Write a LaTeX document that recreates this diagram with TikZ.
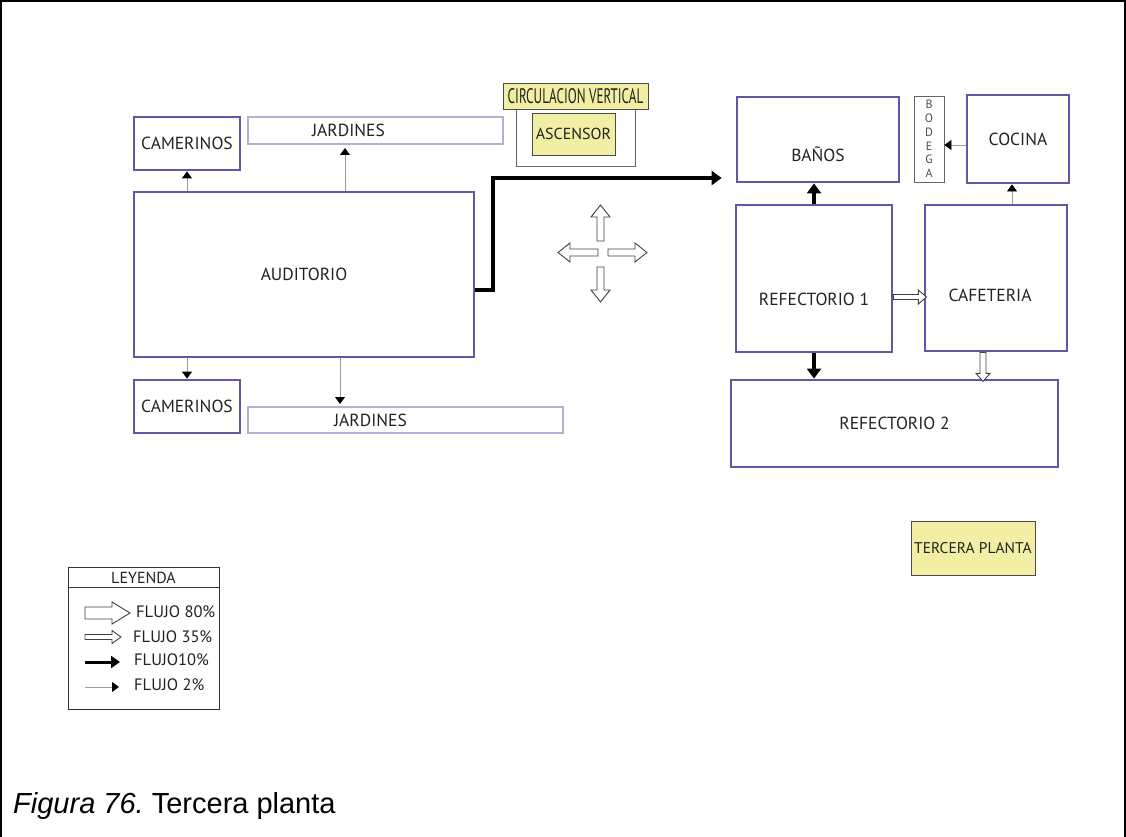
\documentclass[tikz,border=0pt]{standalone}
\usepackage{fontspec}
\usepackage{graphicx}
\setmainfont{PT Sans}
\newfontfamily\capfont{Liberation Sans}
\usetikzlibrary{arrows.meta,calc}
\frenchspacing
\definecolor{pur}{HTML}{6654A8}
\definecolor{lpur}{HTML}{B5AEDB}
\definecolor{yel}{HTML}{F2EFA4}
\definecolor{gr}{HTML}{9A9A9A}
\definecolor{txt}{HTML}{222222}
\newcommand\harrow[6]{\begin{scope}[shift={#1},rotate=#2]
  \draw[hollow] (0,-#4) -- ({#3-#6},-#4) -- ({#3-#6},-#5) -- (#3,0) -- ({#3-#6},#5) -- ({#3-#6},#4) -- (0,#4) -- cycle;
\end{scope}}
\tikzset{
  lab/.style={font=\fontsize{17.5}{19}\selectfont, text=txt},
  room/.style={draw=pur, line width=2.8pt, inner sep=0pt, lab},
  garden/.style={draw=lpur, line width=2pt, inner sep=0pt},
  ybox/.style={draw=black!70, fill=yel, line width=0.8pt, inner sep=0pt, text=txt},
  plainbox/.style={draw=black!60, line width=0.8pt, inner sep=0pt},
  thinflow/.style={draw=gr, line width=0.8pt, -{Triangle[length=7pt,width=10pt,color=black]}},
  thickflow/.style={draw=black, line width=3.4pt, -{Triangle[length=10pt,width=14pt]}},
  hollow/.style={draw=black!75, line width=0.9pt, fill=white},
  legtext/.style={anchor=west, font=\fontsize{16.5}{18}\selectfont, text=txt, inner sep=0pt},
}
\begin{document}
\begin{tikzpicture}[x=1pt,y=-1pt]
\useasboundingbox (0,0) rectangle (1126,837);
\draw[line width=1.6pt] (1,837) -- (1,1) -- (1125,1) -- (1125,837);

% left group
\node[room, minimum width=106pt, minimum height=53pt] (cam1) at (187,143.5) {CAMERINOS};
\node[garden, minimum width=255pt, minimum height=27pt, label={[lab, xshift=-27pt]center:JARDINES}] (jar1) at (375.5,130.5) {};
\node[room, minimum width=340pt, minimum height=165pt] (aud) at (304,274.5) {AUDITORIO};
\node[room, minimum width=106pt, minimum height=53pt] (cam2) at (187,406.5) {CAMERINOS};
\node[garden, minimum width=315pt, minimum height=26pt, label={[lab, xshift=-35pt]center:JARDINES}] (jar2) at (405.5,420) {};

% vertical circulation
\node[plainbox, minimum width=119pt, minimum height=66pt] (shaft) at (575.5,133) {};
\node[ybox, minimum width=145pt, minimum height=26pt, font=\fontsize{21}{22}\selectfont] (circ) at (575.5,96) {\scalebox{0.625}[1]{CIRCULACION VERTICAL}};
\node[ybox, minimum width=83pt, minimum height=42pt, font=\fontsize{16}{18}\selectfont] (asc) at (573.5,134) {ASCENSOR};

% right group
\node[room, minimum width=162pt, minimum height=85pt, label={[lab, yshift=-15pt]center:BAÑOS}] (banos) at (818,139.5) {};
\node[plainbox, minimum width=30pt, minimum height=86pt, align=center, font=\fontsize{12}{13.8}\selectfont, text=black!70] (bod) at (929,139) {B\\O\\D\\E\\G\\A};
\node[room, minimum width=102pt, minimum height=88pt] (coc) at (1018,139) {COCINA};
\node[room, minimum width=156pt, minimum height=147pt, label={[lab, yshift=-20.5pt]center:REFECTORIO 1}] (r1) at (814,278.5) {};
\node[room, minimum width=142pt, minimum height=146pt, label={[lab, xshift=-6pt, yshift=-17pt]center:CAFETERIA}] (caf) at (996,278) {};
\node[room, minimum width=327pt, minimum height=87pt] (r2) at (894.5,423.5) {REFECTORIO 2};
\node[ybox, minimum width=124pt, minimum height=54pt, font=\fontsize{15.5}{17}\selectfont] (tp) at (973,548) {TERCERA PLANTA};

% connectors
\coordinate (c345) at (345,0);
\coordinate (c340) at (340,0);
\coordinate (k1) at (493,290);
\coordinate (k2) at (493,178);
\coordinate (c145) at (0,145);
\coordinate (c1012) at (1012,0);
\coordinate (c297) at (0,297);
\coordinate (c983) at (983,0);
\draw[thinflow] (aud.north -| cam1) -- (cam1.south);
\draw[thinflow, shorten >=3pt] (aud.north -| c345) -- (jar1.south -| c345);
\draw[thinflow] (aud.south -| cam2) -- (cam2.north);
\draw[thinflow, shorten >=2pt] (aud.south -| c340) -- (jar2.north -| c340);
\draw[thickflow, shorten >=14pt] (aud.east |- k1) -- (k1) -- (k2) -- (banos.west |- k2);
\draw[thickflow] (r1.north) -- (r1.north |- banos.south);
\draw[thickflow] (r1.south) -- (r1.south |- r2.north);
\draw[thinflow] (coc.west |- c145) -- (bod.east |- c145);
\draw[thinflow] (caf.north -| c1012) -- (coc.south -| c1012);
\harrow{(r1.east |- c297)}{0}{33}{2.5}{7}{8}
\harrow{(caf.south -| c983)}{-90}{29}{3}{7}{8}

% central cross
\harrow{(600.5,241)}{90}{36}{3.5}{9.5}{12}
\harrow{(608,252.5)}{0}{39}{3.5}{9.5}{12}
\harrow{(598,252.5)}{180}{40}{3.5}{9.5}{12}
\harrow{(600.5,267)}{-90}{35}{3.5}{9.5}{12}

% legend
\node[draw=black!80, line width=0.8pt, minimum width=151pt, minimum height=142pt, inner sep=0pt] (leg) at (143.5,638) {};
\draw[black!80, line width=0.8pt] ($(leg.north west)+(0,-21pt)$) -- ($(leg.north east)+(0,-21pt)$);
\node[font=\fontsize{16}{17}\selectfont, text=txt] (legt) at (143.5,578) {LEYENDA};
\harrow{(85,613)}{0}{45}{6}{11}{18}
\harrow{(85,637)}{0}{36}{2.5}{6.5}{9}
\draw[draw=black, line width=3pt, -{Triangle[length=9pt,width=12pt]}] (85,662) -- (120,662);
\draw[thinflow] (85,687) -- (119,687);
\node[legtext] (l1) at (136,612) {FLUJO 80\%};
\node[legtext] (l2) at (133,637) {FLUJO 35\%};
\node[legtext] (l3) at (134,660) {FLUJO10\%};
\node[legtext] (l4) at (134,685) {FLUJO 2\%};

% caption
\node[anchor=base west, inner sep=0pt, font=\capfont\fontsize{29}{31}\selectfont] (cap) at (13,813) {\textit{Figura 76.}\ Tercera planta};
\end{tikzpicture}
\end{document}
